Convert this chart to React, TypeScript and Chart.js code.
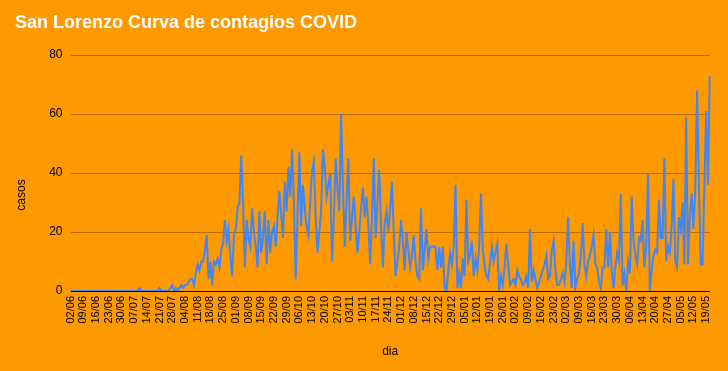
import React, { useEffect, useRef } from 'react';
import { Chart, registerables } from 'chart.js';

Chart.register(...registerables);

const TITLE = 'San Lorenzo Curva de contagios COVID';
const X_TITLE = 'dia';
const Y_TITLE = 'casos';

// first day of the series (year, month, day) and days absent from the sheet
const START_DATE = [2020, 6, 2];
const MISSING_DATES = ['01/05'];

const TICK_LABELS = [
  '02/06', '09/06', '16/06', '23/06', '30/06', '07/07', '14/07', '21/07', '28/07',
  '04/08', '11/08', '18/08', '25/08', '01/09', '08/09', '15/09', '22/09', '29/09',
  '06/10', '13/10', '20/10', '27/10', '03/11', '10/11', '17/11', '24/11', '01/12',
  '08/12', '15/12', '22/12', '29/12', '05/01', '12/01', '19/01', '26/01', '02/02',
  '09/02', '16/02', '23/02', '02/03', '09/03', '16/03', '23/03', '30/03', '06/04',
  '13/04', '20/04', '27/04', '05/05', '12/05', '19/05',
];

const Y_MIN = 0;
const Y_MAX = 80;
const Y_STEP = 20;

const CASES = [
  0, 0, 0, 0, 0, 0, 0, 0, 0, 0,
  0, 0, 0, 0, 0, 0, 0, 0, 0, 0,
  0, 0, 0, 0, 0, 0, 0, 0, 0, 0,
  0, 0, 0, 0, 0, 0, 0, 0, 1, 0,
  0, 0, 0, 0, 0, 0, 0, 0, 0, 1,
  0, 0, 0, 0, 0, 1, 2, 0, 1, 0,
  1, 2, 1, 2, 2, 3, 4, 4, 2, 6,
  9, 7, 10, 10, 14, 19, 4, 10, 2, 10,
  9, 11, 8, 14, 16, 24, 17, 21, 12, 5,
  19, 21, 28, 30, 46, 30, 8, 24, 18, 15,
  28, 20, 15, 8, 27, 13, 18, 27, 9, 24,
  13, 20, 22, 15, 25, 34, 26, 18, 37, 27,
  42, 32, 48, 30, 4, 25, 47, 22, 36, 28,
  22, 19, 30, 41, 44, 25, 13, 20, 27, 48,
  42, 32, 36, 40, 10, 25, 45, 35, 27, 60,
  35, 15, 30, 45, 17, 25, 32, 22, 13, 20,
  28, 35, 25, 32, 22, 9, 25, 45, 18, 30,
  41, 22, 8, 23, 27, 20, 28, 37, 20, 5,
  10, 15, 24, 17, 7, 20, 14, 8, 12, 19,
  10, 5, 4, 28, 7, 14, 21, 11, 15, 15,
  15, 15, 7, 15, 8, 15, 1, 0, 7, 13,
  9, 15, 36, 1, 6, 1, 11, 5, 31, 10,
  12, 17, 5, 11, 7, 15, 33, 14, 9, 5,
  4, 10, 15, 10, 13, 16, 0, 5, 2, 8,
  16, 9, 2, 3, 4, 2, 7, 5, 4, 2,
  3, 5, 1, 21, 3, 7, 4, 1, 3, 5,
  7, 9, 12, 4, 5, 14, 17, 7, 2, 2,
  4, 6, 3, 10, 25, 9, 1, 17, 1, 4,
  6, 12, 23, 9, 5, 10, 12, 15, 19, 9,
  8, 3, 1, 8, 8, 21, 8, 20, 7, 1,
  8, 13, 10, 33, 2, 6, 0, 10, 6, 32,
  17, 12, 9, 18, 17, 24, 8, 15, 40, 0,
  7, 12, 14, 13, 31, 18, 18, 45, 10, 15,
  13, 22, 38, 10, 8, 25, 21, 30, 9, 59,
  9, 26, 33, 21, 35, 68, 36, 9, 9, 35,
  61, 36, 73,
];

const FONT = "Arial, 'Liberation Sans', sans-serif";
const BG = '#FF9900';
const LINE = '#4285F4';
const GRID = '#B36A00';

function pad2(n: number) {
  return n < 10 ? '0' + n : String(n);
}

function buildDayLabels(count: number): string[] {
  const out: string[] = [];
  const d = new Date(Date.UTC(START_DATE[0], START_DATE[1] - 1, START_DATE[2]));
  while (out.length < count) {
    const s = pad2(d.getUTCDate()) + '/' + pad2(d.getUTCMonth() + 1);
    if (!MISSING_DATES.includes(s)) out.push(s);
    d.setUTCDate(d.getUTCDate() + 1);
  }
  return out;
}

const bgPlugin = {
  id: 'bgFill',
  beforeDraw(chart: any) {
    const { ctx, width, height } = chart;
    ctx.save();
    ctx.fillStyle = BG;
    ctx.fillRect(0, 0, width, height);
    ctx.restore();
  },
};

const yTitlePlugin = {
  id: 'yTitle',
  afterDraw(chart: any) {
    const { ctx } = chart;
    ctx.save();
    ctx.translate(22, 195);
    ctx.rotate(-Math.PI / 2);
    ctx.font = `12px ${FONT}`;
    ctx.fillStyle = '#000';
    ctx.textAlign = 'center';
    ctx.textBaseline = 'middle';
    ctx.fillText(Y_TITLE, 0, 0);
    ctx.restore();
  },
};

export default function App() {
  const ref = useRef<HTMLCanvasElement | null>(null);

  useEffect(() => {
    if (!ref.current) return;
    const labels = buildDayLabels(CASES.length);
    const chart = new Chart(ref.current, {
      type: 'line',
      data: {
        labels,
        datasets: [
          {
            label: 'casos',
            data: CASES,
            borderColor: LINE,
            backgroundColor: LINE,
            borderWidth: 2,
            pointRadius: 0,
            tension: 0,
            fill: false,
          },
        ],
      },
      options: {
        responsive: false,
        animation: false,
        devicePixelRatio: 1,
        layout: { padding: { left: 15, right: 16.5, top: 0, bottom: 0 } },
        plugins: {
          legend: { display: false },
          tooltip: { enabled: false },
          title: {
            display: true,
            text: TITLE,
            align: 'start',
            color: '#FFFFFF',
            font: { family: FONT, size: 18, weight: 'bold' },
            padding: { top: 12, bottom: 21.4 },
          },
        },
        scales: {
          x: {
            type: 'category',
            offset: false,
            grid: { display: false, drawTicks: false },
            border: { display: false },
            ticks: {
              autoSkip: false,
              minRotation: 90,
              maxRotation: 90,
              padding: 5,
              color: '#000',
              font: { family: FONT, size: 11 },
              callback: function (this: any, value: any) {
                const l = this.getLabelForValue(value);
                return TICK_LABELS.includes(l) ? l : '';
              },
            },
            title: {
              display: true,
              text: X_TITLE,
              color: '#000',
              font: { family: FONT, size: 12 },
              padding: { top: 0, bottom: 12 },
            },
            afterFit: (scale: any) => {
              scale.height = 80;
            },
          },
          y: {
            min: Y_MIN,
            max: Y_MAX,
            border: { display: false },
            grid: {
              drawTicks: false,
              lineWidth: 1,
              color: (c: any) => (c.tick && c.tick.value === 0 ? '#000000' : GRID),
            },
            ticks: {
              stepSize: Y_STEP,
              padding: 8,
              color: '#000',
              font: { family: FONT, size: 12 },
            },
            afterFit: (scale: any) => {
              scale.width = 55.5;
            },
          },
        },
      },
      plugins: [bgPlugin, yTitlePlugin],
    });
    return () => chart.destroy();
  }, []);

  return (
    <div style={{ position: 'fixed', left: 0, top: 0, width: 728, height: 371, background: BG }}>
      <canvas ref={ref} width={728} height={371} style={{ width: 728, height: 371, display: 'block' }} />
    </div>
  );
}
